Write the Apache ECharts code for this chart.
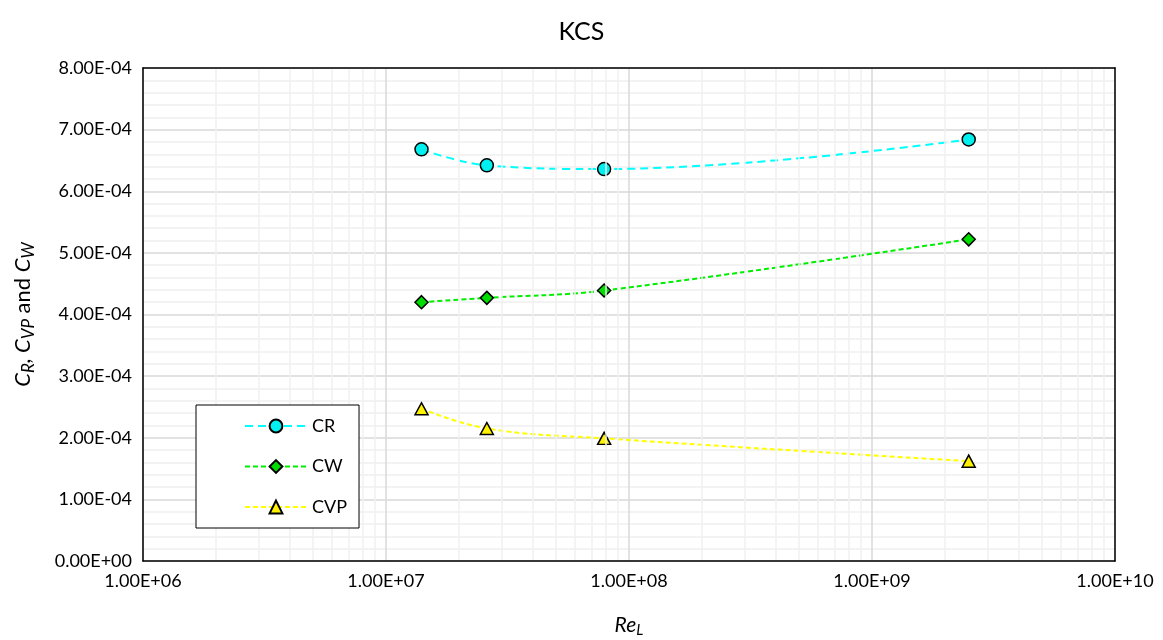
<!DOCTYPE html>
<html>
<head>
<meta charset="utf-8">
<script src="https://cdn.jsdelivr.net/npm/echarts@6/dist/echarts.min.js"></script>
<style>
html,body{margin:0;padding:0;background:#fff;}
#chart{width:1163px;height:640px;}
</style>
</head>
<body>
<div id="chart"></div>
<script>
// ---- data ----
const titleText = 'KCS';
const seriesNames = ['CR', 'CW', 'CVP'];
const reL = [1.40e7, 2.60e7, 7.9e7, 2.5e9];
const cr  = [6.68e-4, 6.42e-4, 6.36e-4, 6.84e-4];
const cw  = [4.20e-4, 4.27e-4, 4.39e-4, 5.22e-4];
const cvp = [2.47e-4, 2.15e-4, 1.99e-4, 1.62e-4];
const xRange = [1e6, 1e10];
const yRange = [0, 8e-4];
const yStep = 1e-4;

function fmtE(v) {
  if (Math.abs(v) < 1e-20) return '0.00E+00';
  const parts = Number(v).toExponential(2).split('e');
  const n = parseInt(parts[1], 10);
  return parts[0] + 'E' + (n < 0 ? '-' : '+') + String(Math.abs(n)).padStart(2, '0');
}
function pairs(xs, ys) { return xs.map((x, i) => [x, ys[i]]); }

// minor log grid values: 2..9 x 10^n inside the x range
const minorX = [];
for (let e = Math.round(Math.log10(xRange[0])); e < Math.round(Math.log10(xRange[1])); e++) {
  for (let k = 2; k <= 9; k++) minorX.push(k * Math.pow(10, e));
}

const FONT = 'Lato';
const chart = echarts.init(document.getElementById('chart'), null, {renderer: 'canvas'});

const borderAxis = (pos) => ({
  type: 'value', gridIndex: 0, position: pos, min: 0, max: 1, z: 5,
  axisLine: {show: true, onZero: false, lineStyle: {color: '#000', width: 1.5}},
  axisTick: {show: false}, axisLabel: {show: false}, splitLine: {show: false}
});

const option = {
  backgroundColor: '#fff',
  animation: false,
  title: {
    text: titleText, left: 'center', top: 14,
    textStyle: {fontFamily: FONT, fontSize: 25, fontWeight: 'normal', color: '#000'}
  },
  grid: {left: 143, right: 48, top: 68, bottom: 79, containLabel: false, outerBoundsMode: 'none'},
  legend: {
    orient: 'vertical', left: 196, top: 405,
    data: seriesNames,
    itemWidth: 62, itemHeight: 16, itemGap: 22.5,
    padding: [12, 12, 12, 48],
    backgroundColor: '#fff', borderColor: '#000', borderWidth: 1,
    textStyle: {fontFamily: FONT, fontSize: 18, lineHeight: 16, color: '#000'},
    z: 10
  },
  xAxis: [
    {
      type: 'log', logBase: 10, min: xRange[0], max: xRange[1],
      name: '{i|Re}{s|L}', nameLocation: 'middle', nameGap: 51,
      nameTextStyle: {
        rich: {
          i: {fontFamily: FONT, fontSize: 21, fontStyle: 'italic', color: '#000'},
          s: {fontFamily: FONT, fontSize: 15, fontStyle: 'italic', color: '#000', padding: [11, 0, 0, 0]}
        }
      },
      axisLine: {show: false}, axisTick: {show: false},
      axisLabel: {fontFamily: FONT, fontSize: 18, color: '#000', margin: 11, formatter: fmtE},
      splitLine: {show: true, lineStyle: {color: '#d9d9d9', width: 1.5}},
      minorSplitLine: {show: false}
    },
    borderAxis('bottom'),
    borderAxis('top')
  ],
  yAxis: [
    {
      type: 'value', min: yRange[0], max: yRange[1], interval: yStep,
      name: '{i|C}{s|R}{i|, C}{s|VP}{n| and }{i|C}{s|W}',
      nameLocation: 'middle', nameRotate: 90, nameGap: 106,
      nameTextStyle: {
        rich: {
          i: {fontFamily: FONT, fontSize: 22, fontStyle: 'italic', color: '#000'},
          n: {fontFamily: FONT, fontSize: 22, color: '#000'},
          s: {fontFamily: FONT, fontSize: 17, fontStyle: 'italic', color: '#000', padding: [11, 0, 0, 0]}
        }
      },
      axisLine: {show: false}, axisTick: {show: false},
      axisLabel: {fontFamily: FONT, fontSize: 18, color: '#000', margin: 11, formatter: fmtE},
      splitLine: {show: true, lineStyle: {color: '#d9d9d9', width: 1.5}},
      minorTick: {show: false, splitNumber: 5},
      minorSplitLine: {show: true, lineStyle: {color: '#f0f0f0', width: 1.5}}
    },
    borderAxis('left'),
    borderAxis('right')
  ],
  series: [
    {
      name: 'minorGridX', type: 'line', xAxisIndex: 0, yAxisIndex: 0,
      data: [], silent: true, z: 1,
      markLine: {
        silent: true, symbol: ['none', 'none'], animation: false,
        label: {show: false},
        lineStyle: {color: '#f0f0f0', type: 'solid', width: 1.5},
        emphasis: {disabled: true},
        data: minorX.map(v => ({xAxis: v}))
      }
    },
    {
      name: seriesNames[0], type: 'line', xAxisIndex: 0, yAxisIndex: 0,
      data: pairs(reL, cr), smooth: 0.4, z: 3,
      symbol: 'circle', symbolSize: 13,
      lineStyle: {color: '#00FFFF', width: 2, type: [8, 5]},
      itemStyle: {color: '#00F0F0', borderColor: '#000', borderWidth: 1.5}
    },
    {
      name: seriesNames[1], type: 'line', xAxisIndex: 0, yAxisIndex: 0,
      data: pairs(reL, cw), smooth: 0.4, z: 3,
      symbol: 'diamond', symbolSize: [13, 13],
      lineStyle: {color: '#00EE00', width: 2, type: [5, 3]},
      itemStyle: {color: '#00DD00', borderColor: '#000', borderWidth: 1.5}
    },
    {
      name: seriesNames[2], type: 'line', xAxisIndex: 0, yAxisIndex: 0,
      data: pairs(reL, cvp), smooth: 0.4, z: 3,
      symbol: 'triangle', symbolSize: [13, 12],
      lineStyle: {color: '#FFFF00', width: 2, type: [5, 3]},
      itemStyle: {color: '#FFF200', borderColor: '#000', borderWidth: 1.5}
    }
  ]
};
chart.setOption(option);
</script>
</body>
</html>
